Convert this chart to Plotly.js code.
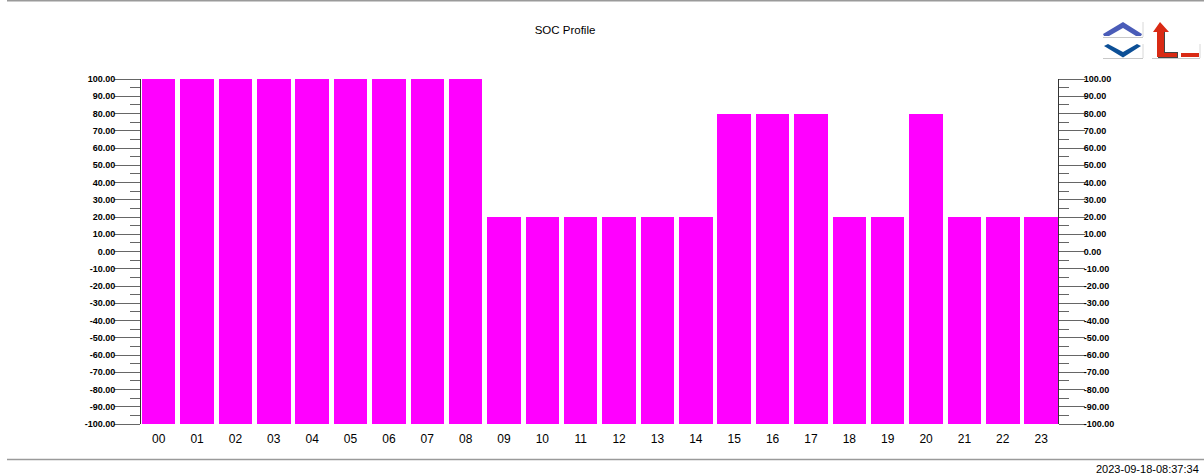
<!DOCTYPE html>
<html><head><meta charset="utf-8">
<script src="https://cdn.plot.ly/plotly-3.0.1.min.js"></script>
<style>html,body{margin:0;padding:0;background:#fff}#c{width:1204px;height:476px}</style>
</head><body><div id="c"></div>
<script>
const hours = ["00","01","02","03","04","05","06","07","08","09","10","11","12","13","14","15","16","17","18","19","20","21","22","23"];
const soc = [100,100,100,100,100,100,100,100,100,20,20,20,20,20,20,80,80,80,20,20,80,20,20,20];
const axisMin = -100;
const tickValues = [100,90,80,70,60,50,40,30,20,10,0,-10,-20,-30,-40,-50,-60,-70,-80,-90,-100];
const tickLabels = tickValues.map(v => v.toFixed(2));
const chartTitle = "SOC Profile";
const stamp = "2023-09-18-08:37:34";

const W = 1204, H = 476, L = 141, R = 1058, T = 79, B = 424;
const px = x => (x - L) / (R - L), py = y => (B - y) / (B - T);
const poly = (pts, fill, line) => ({type:'path', xref:'paper', yref:'paper', layer:'above',
  path: 'M' + pts.map(p => px(p[0]) + ',' + py(p[1])).join('L') + 'Z',
  fillcolor: fill, line: {width: line ? 1 : 0, color: line || fill}});
const seg = (x0,y0,x1,y1,color,w) => ({type:'line', xref:'paper', yref:'paper', layer:'above',
  x0:px(x0), y0:py(y0), x1:px(x1), y1:py(y1), line:{color:color,width:w}});

const shapes = [
  seg(7,0.5,1204,0.5,'#9a9a9a',2),
  seg(7,459.5,1204,459.5,'#9a9a9a',1.5),
  // zoom-in / zoom-out chevrons
  seg(1103,37.5,1143,37.5,'#c8c8c8',1),
  seg(1143,22,1143,37,'#d8d8d8',1),
  poly([[1103,34],[1123,22],[1142,34],[1141,36],[1136,36],[1123,28],[1109,36],[1104,36]],'#4a5cb8'),
  seg(1103,58.5,1143,58.5,'#c8c8c8',1),
  seg(1143,44,1143,58,'#d8d8d8',1),
  poly([[1104,46],[1108,44],[1123,52],[1137,44],[1141,46],[1123,57.5]],'#0c4f96'),
  // axis-reset icon
  seg(1152,58.5,1200,58.5,'#c8c8c8',1),
  seg(1200,44,1200,58,'#d8d8d8',1),
  poly([[1165,32],[1165,52],[1178,52],[1178,58],[1158,58],[1158,32]],'#444'),
  poly([[1160,22],[1169,32],[1164,32],[1164,53],[1177,53],[1177,57],[1157,57],[1157,32],[1153,32]],'#d92a14'),
  poly([[1181,53],[1199,53],[1199,57],[1181,57]],'#d92a14')
];

const font = {family:'"Liberation Sans", Arial, sans-serif', color:'#000'};
const tickFont = {family:font.family, size:9, color:'#000', weight:700};
const yCommon = {
  range:[-100,100], tickmode:'array', tickvals:tickValues, ticktext:tickLabels,
  ticks:'outside', ticklen:26, tickwidth:1, tickcolor:'#666', tickfont:tickFont,
  showline:true, linecolor:'#333', linewidth:1, showgrid:false, zeroline:false,
  minor:{tickmode:'linear', tick0:-95, dtick:10, ticks:'outside', ticklen:10, tickwidth:1, tickcolor:'#666', showgrid:false},
  fixedrange:true
};
Plotly.newPlot('c', [
  {type:'bar', x:hours, y:soc.map(v => v - axisMin), base:axisMin, marker:{color:'#ff00ff', line:{width:0}}, width:0.873, hoverinfo:'skip'},
  {type:'scatter', mode:'markers', x:[hours[0]], y:[axisMin], yaxis:'y2', marker:{opacity:0}, hoverinfo:'skip'}
], {
  width:W, height:H, autosize:false, showlegend:false, bargap:0,
  paper_bgcolor:'#fff', plot_bgcolor:'#fff',
  margin:{l:L, r:W-R, t:T, b:H-B, pad:0},
  title:{text:chartTitle, font:{family:font.family, size:11.5, color:'#000'}, x:565/W, xanchor:'center', xref:'container', y:1-30/H, yanchor:'middle'},
  xaxis:{type:'category', categoryorder:'array', categoryarray:hours, range:[-0.461,23.439], ticks:'', showline:false, showgrid:false, zeroline:false,
    tickfont:{family:font.family, size:12, color:'#000'}, ticklen:0, ticklabelstandoff:6, fixedrange:true},
  yaxis:{...yCommon, side:'left', ticklabelstandoff:-3},
  yaxis2:{...yCommon, side:'right', overlaying:'y', anchor:'x', ticklabelstandoff:-3},
  shapes:shapes,
  annotations:[{text:stamp, xref:'paper', yref:'paper', x:px(1200.5), y:py(468.5), xanchor:'right', yanchor:'middle', showarrow:false, font:{family:font.family, size:11, color:'#000'}}]
}, {displayModeBar:false, staticPlot:true});
</script></body></html>
